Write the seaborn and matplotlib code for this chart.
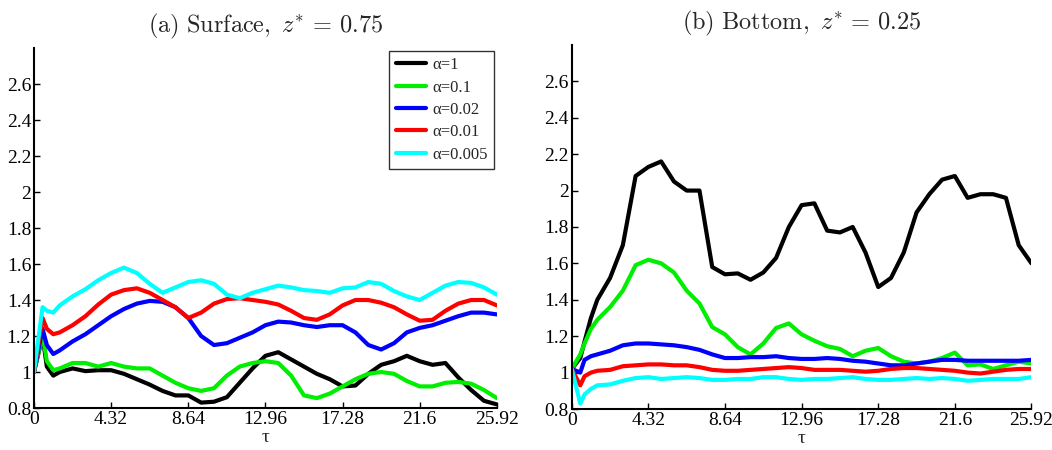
import numpy as np
import pandas as pd
import matplotlib
matplotlib.use("Agg")
import matplotlib.pyplot as plt
import seaborn as sns

# ── Data ──────────────────────────────────────────────────────
tau = [0, 0.48, 0.72, 1.08, 1.44, 2.16, 2.88, 3.6, 4.32, 5.04, 5.76, 6.48,
       7.2, 7.92, 8.64, 9.36, 10.08, 10.8, 11.52, 12.24, 12.96, 13.68, 14.4,
       15.12, 15.84, 16.56, 17.28, 18.0, 18.72, 19.44, 20.16, 20.88, 21.6,
       22.32, 23.04, 23.76, 24.48, 25.2, 25.92]

labels = ["α=1", "α=0.1", "α=0.02", "α=0.01", "α=0.005"]
colors = ["#000000", "#00ee00", "#0000ff", "#ff0000", "#00ffff"]

# (a) surface, z* = 0.75
surf_a1 = [1.0, 1.20, 1.03, 0.98, 1.00, 1.02, 1.005, 1.01, 1.01, 0.99, 0.96,
           0.93, 0.895, 0.87, 0.87, 0.83, 0.835, 0.86, 0.94, 1.02, 1.09, 1.11,
           1.07, 1.03, 0.99, 0.96, 0.92, 0.925, 0.99, 1.04, 1.06, 1.09, 1.06,
           1.04, 1.05, 0.97, 0.90, 0.84, 0.82]
surf_a01 = [1.0, 1.21, 1.06, 1.01, 1.02, 1.05, 1.05, 1.03, 1.05, 1.03, 1.02,
            1.02, 0.98, 0.94, 0.91, 0.895, 0.91, 0.98, 1.03, 1.05, 1.06, 1.05,
            0.98, 0.87, 0.855, 0.88, 0.92, 0.96, 0.99, 1.00, 0.99, 0.95, 0.92,
            0.92, 0.94, 0.945, 0.935, 0.90, 0.855]
surf_a002 = [1.0, 1.24, 1.15, 1.10, 1.12, 1.17, 1.21, 1.26, 1.31, 1.35, 1.38,
             1.395, 1.39, 1.36, 1.30, 1.20, 1.15, 1.16, 1.19, 1.22, 1.26, 1.28,
             1.275, 1.26, 1.25, 1.26, 1.26, 1.22, 1.15, 1.125, 1.16, 1.22,
             1.245, 1.26, 1.285, 1.31, 1.33, 1.33, 1.32]
surf_a001 = [1.0, 1.30, 1.24, 1.21, 1.22, 1.26, 1.31, 1.375, 1.43, 1.455,
             1.465, 1.44, 1.40, 1.36, 1.30, 1.33, 1.38, 1.405, 1.41, 1.40,
             1.39, 1.375, 1.34, 1.30, 1.29, 1.32, 1.37, 1.40, 1.40, 1.385,
             1.36, 1.32, 1.285, 1.29, 1.34, 1.38, 1.40, 1.40, 1.37]
surf_a0005 = [1.0, 1.36, 1.34, 1.33, 1.37, 1.42, 1.46, 1.51, 1.55, 1.58, 1.55,
              1.49, 1.44, 1.47, 1.50, 1.51, 1.49, 1.43, 1.41, 1.44, 1.46,
              1.48, 1.47, 1.455, 1.45, 1.44, 1.465, 1.47, 1.50, 1.49, 1.45,
              1.42, 1.40, 1.44, 1.48, 1.50, 1.495, 1.47, 1.43]

# (b) bottom, z* = 0.25
bot_a1 = [1.02, 1.08, 1.17, 1.30, 1.40, 1.52, 1.70, 2.08, 2.13, 2.16, 2.05,
          2.00, 2.00, 1.58, 1.54, 1.545, 1.51, 1.55, 1.63, 1.80, 1.92, 1.93,
          1.78, 1.77, 1.80, 1.66, 1.47, 1.52, 1.66, 1.88, 1.98, 2.06, 2.08,
          1.96, 1.98, 1.98, 1.96, 1.70, 1.60]
bot_a01 = [1.02, 1.10, 1.16, 1.24, 1.29, 1.36, 1.45, 1.59, 1.62, 1.60, 1.55,
           1.45, 1.38, 1.25, 1.21, 1.14, 1.10, 1.16, 1.245, 1.27, 1.21, 1.175,
           1.145, 1.13, 1.09, 1.12, 1.135, 1.09, 1.06, 1.05, 1.06, 1.08, 1.11,
           1.04, 1.045, 1.02, 1.04, 1.06, 1.05]
bot_a002 = [1.02, 1.00, 1.07, 1.09, 1.10, 1.12, 1.15, 1.16, 1.16, 1.155, 1.15,
            1.14, 1.125, 1.10, 1.08, 1.08, 1.085, 1.085, 1.09, 1.08, 1.075,
            1.075, 1.08, 1.075, 1.065, 1.06, 1.05, 1.04, 1.04, 1.05, 1.06,
            1.07, 1.07, 1.065, 1.065, 1.065, 1.065, 1.065, 1.07]
bot_a001 = [1.02, 0.93, 0.98, 1.00, 1.01, 1.015, 1.035, 1.04, 1.045, 1.045,
            1.04, 1.04, 1.03, 1.015, 1.01, 1.01, 1.015, 1.02, 1.025, 1.03,
            1.025, 1.015, 1.015, 1.015, 1.01, 1.005, 1.01, 1.02, 1.025, 1.025,
            1.02, 1.015, 1.01, 1.0, 0.995, 1.005, 1.015, 1.02, 1.02]
bot_a0005 = [1.02, 0.83, 0.88, 0.91, 0.93, 0.935, 0.955, 0.97, 0.975, 0.965,
             0.97, 0.975, 0.97, 0.96, 0.96, 0.965, 0.965, 0.975, 0.975, 0.965,
             0.96, 0.965, 0.965, 0.97, 0.975, 0.965, 0.96, 0.96, 0.965, 0.97,
             0.965, 0.97, 0.965, 0.955, 0.96, 0.965, 0.965, 0.965, 0.975]

xticks = [0, 4.32, 8.64, 12.96, 17.28, 21.6, 25.92]
xtick_labels = ["0", "4.32", "8.64", "12.96", "17.28", "21.6", "25.92"]
yticks = [0.8, 1.0, 1.2, 1.4, 1.6, 1.8, 2.0, 2.2, 2.4, 2.6]
ytick_labels = ["0.8", "1", "1.2", "1.4", "1.6", "1.8", "2", "2.2", "2.4", "2.6"]

panels = [
    (r"$\mathrm{(a)\ Surface,}\ z^{*}\, =\, 0.75$",
     [surf_a1, surf_a01, surf_a002, surf_a001, surf_a0005]),
    (r"$\mathrm{(b)\ Bottom,}\ z^{*}\, =\, 0.25$",
     [bot_a1, bot_a01, bot_a002, bot_a001, bot_a0005]),
]

# ── Style ─────────────────────────────────────────────────────
sns.set_theme(style="white")
plt.rcParams["font.family"] = ["Liberation Serif", "DejaVu Serif"]
plt.rcParams["mathtext.fontset"] = "cm"

fig = plt.figure(figsize=(10.52, 4.5), dpi=100)
ax_a = fig.add_axes([0.0323, 0.0933, 0.440, 0.80])
ax_b = fig.add_axes([0.5435, 0.0911, 0.437, 0.809])

for ax, (title, series) in zip([ax_a, ax_b], panels):
    df = pd.DataFrame({"tau": tau})
    for lab, vals in zip(labels, series):
        df[lab] = vals
    long = df.melt(id_vars="tau", var_name="alpha", value_name="ratio")
    sns.lineplot(data=long, x="tau", y="ratio", hue="alpha",
                 hue_order=labels, palette=colors, lw=3, ax=ax,
                 legend=(ax is ax_a))

    ax.set_xlim(0, 25.92)
    ax.set_ylim(0.8, 2.8)
    ax.set_xticks(xticks)
    ax.set_xticklabels(xtick_labels)
    ax.set_yticks(yticks)
    ax.set_yticklabels(ytick_labels)
    ax.tick_params(direction="in", length=4, width=1, labelsize=14,
                   pad=2, bottom=True, left=True, colors="black")
    ax.set_xlabel("τ", fontsize=14, labelpad=1)
    ax.set_ylabel("")
    ax.set_title(title, fontsize=17.5, pad=11)
    for side in ["top", "right"]:
        ax.spines[side].set_visible(False)
    for side in ["left", "bottom"]:
        ax.spines[side].set_color("black")
        ax.spines[side].set_linewidth(1.5)

leg = ax_a.legend(loc="upper right", bbox_to_anchor=(1.0, 1.0),
                  fontsize=12, handlelength=1.8, handletextpad=0.4,
                  labelspacing=0.38, borderpad=0.4, borderaxespad=0.15,
                  frameon=True, fancybox=False, title=None)
leg.get_frame().set_edgecolor("black")
leg.get_frame().set_linewidth(1.0)
for line in leg.get_lines():
    line.set_linewidth(3)

fig.savefig("out.png", dpi=100)
